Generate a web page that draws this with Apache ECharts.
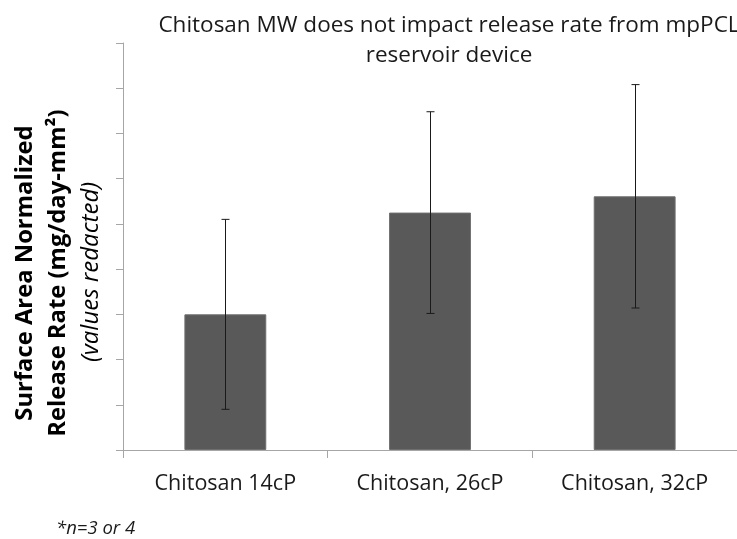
<!DOCTYPE html>
<html>
<head>
<meta charset="utf-8">
<script src="https://cdn.jsdelivr.net/npm/echarts@6/dist/echarts.min.js"></script>
<style>
  html, body { margin: 0; padding: 0; background: #fff; }
  #chart { width: 737px; height: 539px; }
</style>
</head>
<body>
<div id="chart"></div>
<script>
// Release-rate comparison across chitosan molecular weights (values redacted, arbitrary units)
const categories = ['Chitosan 14cP', 'Chitosan, 26cP', 'Chitosan, 32cP'];
const meanRate = [3.0, 5.25, 5.61];
const errRate = [2.1, 2.23, 2.47];
const yMin = 0;
const yMax = 9;
const yStep = 1;

const errData = categories.map((c, i) => [i, meanRate[i] - errRate[i], meanRate[i] + errRate[i]]);

const chart = echarts.init(document.getElementById('chart'));
const font = 'Open Sans';

chart.setOption({
  animation: false,
  backgroundColor: '#ffffff',
  title: {
    text: 'Chitosan MW does not impact release rate from mpPCL\nreservoir device',
    left: 444,
    top: 6,
    textAlign: 'center',
    textStyle: { fontFamily: font, fontWeight: 'normal', fontSize: 22.5, color: '#1a1a1a', lineHeight: 30 }
  },
  grid: { left: 123, right: -4, top: 43, bottom: 89, containLabel: false },
  xAxis: {
    type: 'category',
    data: categories,
    boundaryGap: true,
    axisLine: { lineStyle: { color: '#a6a6a6', width: 1 } },
    axisTick: { show: true, length: 8, alignWithLabel: false, lineStyle: { color: '#a6a6a6' } },
    axisLabel: { fontFamily: font, fontSize: 21.5, color: '#1a1a1a', margin: 23, interval: 0 }
  },
  yAxis: {
    type: 'value',
    min: yMin,
    max: yMax,
    interval: yStep,
    splitLine: { show: false },
    axisLine: { show: true, lineStyle: { color: '#a6a6a6', width: 1 } },
    axisTick: { show: true, length: 7, lineStyle: { color: '#a6a6a6' } },
    axisLabel: { show: false }
  },
  graphic: [
    {
      type: 'text', x: 25, y: 273, rotation: Math.PI / 2,
      style: { text: 'Surface Area Normalized', font: 'bold 23.8px "Open Sans"', fill: '#000', align: 'center', verticalAlign: 'middle' }
    },
    {
      type: 'text', x: 58, y: 273, rotation: Math.PI / 2,
      style: { text: 'Release Rate (mg/day-mm²)', font: 'bold 23.8px "Open Sans"', fill: '#000', align: 'center', verticalAlign: 'middle' }
    },
    {
      type: 'text', x: 91, y: 272, rotation: Math.PI / 2,
      style: { text: '(values redacted)', font: 'italic 24px "Open Sans"', fill: '#000', align: 'center', verticalAlign: 'middle' }
    },
    {
      type: 'text', x: 56, y: 529,
      style: { text: '*n=3 or 4', font: 'italic 18.5px "Open Sans"', fill: '#1a1a1a', align: 'left', verticalAlign: 'middle' }
    }
  ],
  series: [
    {
      type: 'bar',
      data: meanRate,
      barWidth: '40%',
      itemStyle: { color: '#595959', borderColor: '#6e6e6e', borderWidth: 1 },
      z: 2
    },
    {
      type: 'custom',
      data: errData,
      z: 5,
      renderItem: function (params, api) {
        const x = api.value(0);
        const lo = api.coord([x, api.value(1)]);
        const hi = api.coord([x, api.value(2)]);
        const cx = Math.round(lo[0]) + 0.5;
        const half = 4;
        const style = { stroke: '#1a1a1a', lineWidth: 1 };
        return {
          type: 'group',
          children: [
            { type: 'line', shape: { x1: cx, y1: hi[1], x2: cx, y2: lo[1] }, style: style },
            { type: 'line', shape: { x1: cx - half, y1: hi[1], x2: cx + half, y2: hi[1] }, style: style },
            { type: 'line', shape: { x1: cx - half, y1: lo[1], x2: cx + half, y2: lo[1] }, style: style }
          ]
        };
      }
    }
  ]
});
</script>
</body>
</html>
